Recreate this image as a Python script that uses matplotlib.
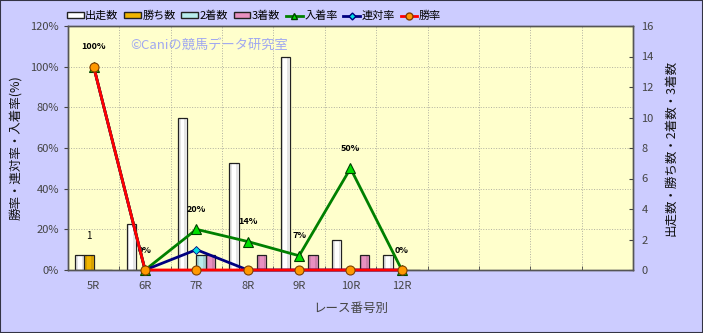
import matplotlib
matplotlib.use("Agg")
import matplotlib.pyplot as plt
from matplotlib.patches import Patch, Rectangle
from matplotlib.lines import Line2D
import numpy as np

plt.rcParams['font.family'] = ['Noto Sans CJK JP', 'DejaVu Sans']

categories = ['5R', '6R', '7R', '8R', '9R', '10R', '12R']
slot_labels = categories + ['', '', '', '']
starts = [1, 3, 10, 7, 14, 2, 1]        # 出走数
wins = [1, 0, 0, 0, 0, 0, 0]            # 勝ち数
seconds = [0, 0, 1, 0, 0, 0, 0]         # 2着数
thirds = [0, 0, 1, 1, 1, 1, 0]          # 3着数
place_rate = [100, 0, 20, 14, 7, 50, 0]  # 入着率
quinella_rate = [100, 0, 10, 0, 0, 0, 0]  # 連対率
win_rate = [100, 0, 0, 0, 0, 0, 0]       # 勝率
place_labels = ['100%', '0%', '20%', '14%', '7%', '50%', '0%']

BG = '#CCCCFF'
PLOT_BG = '#FFFFCC'

fig = plt.figure(figsize=(7.03, 3.33), dpi=100, facecolor=BG)
ax = fig.add_axes([68/703, 1-270/333, (633-68)/703, (270-26)/333])
ax2 = ax.twinx()

n = len(slot_labels)
x = np.arange(len(categories))
w = 0.18
bar_specs = [(starts, '#FFFFFF', '出走数'), (wins, '#F0B400', '勝ち数'),
             (seconds, '#B8ECEC', '2着数'), (thirds, '#E890C0', '3着数')]
for i, (vals, col, lab) in enumerate(bar_specs):
    ax2.bar(x + (i - 1.5) * w, vals, width=w, color=col, edgecolor='#222222',
            linewidth=0.9, zorder=2)
    # subtle cylinder shading
    ax2.bar(x + (i - 1.5) * w - w * 0.3, vals, width=w * 0.18, color='#000000',
            alpha=0.10, linewidth=0, zorder=2.1)
    ax2.bar(x + (i - 1.5) * w + w * 0.3, vals, width=w * 0.18, color='#000000',
            alpha=0.10, linewidth=0, zorder=2.1)
for xi, v in zip(x, wins):
    if v > 0:
        ax2.annotate(str(v), (xi - 0.5 * w, v), xytext=(0, 10), textcoords='offset points',
                     ha='center', va='bottom', fontsize=7, color='black')
ax2.set_ylim(0, 16)
ax2.set_yticks(range(0, 17, 2))

ax.set_zorder(ax2.get_zorder() + 1)
ax.patch.set_visible(False)
ax2.patch.set_visible(True)
ax2.patch.set_facecolor(PLOT_BG)

ax.plot(x, place_rate, color='#008000', lw=2, marker='^', ms=7,
        mfc='#00E000', mec='#004000', mew=0.8, zorder=3, clip_on=False)
ax.plot(x, quinella_rate, color='#000080', lw=2, marker='D', ms=4.5,
        mfc='#00E0E0', mec='#000080', mew=0.6, zorder=4, clip_on=False)
ax.plot(x, win_rate, color='#FF0000', lw=2, marker='o', ms=6.5,
        mfc='#FF9900', mec='#804000', mew=0.8, zorder=5, clip_on=False)
for xi, v, t in zip(x, place_rate, place_labels):
    ax.annotate(t, (xi, v), xytext=(0, 11), textcoords='offset points',
                ha='center', va='bottom', fontsize=6.5, fontweight='bold', color='black')

ax.set_xlim(-0.5, n - 0.5)
ax.set_ylim(0, 120)
ax.set_yticks(range(0, 121, 20))
ax.set_yticklabels([f'{v}%' for v in range(0, 121, 20)])
ax.set_xticks(range(n))
ax.set_xticklabels(slot_labels)
ax.set_xticks(np.arange(-0.5, n, 1), minor=True)
ax.tick_params(axis='x', which='major', length=0, pad=8, labelsize=8, labelcolor='#444444')
ax.tick_params(axis='x', which='minor', length=3, direction='in', color='#444444')
ax.tick_params(axis='y', length=3, direction='out', labelsize=8, labelcolor='#444444', color='#444444')
ax2.tick_params(axis='y', length=3, direction='in', labelsize=8, labelcolor='#444444', color='#444444', pad=6)

for yv in range(20, 121, 20):
    ax2.axhline(yv * 16 / 120, color='#B0B0A0', lw=0.7, ls=':', zorder=0.5)
for xv in np.arange(0.5, n - 1, 1):
    ax2.axvline(xv, color='#B0B0A0', lw=0.7, ls=':', zorder=0.5)

for a in (ax, ax2):
    for s in a.spines.values():
        s.set_color('#555555')
        s.set_linewidth(1.0)

ax.set_ylabel('勝率・連対率・入着率(%)', fontsize=9, color='#111111', labelpad=6)
ax2.set_ylabel('出走数・勝ち数・2着数・3着数', fontsize=9, color='#111111', rotation=90, labelpad=8)
ax.set_xlabel('レース番号別', fontsize=9, color='#444444', labelpad=8)

ax.text(0.11, 0.92, '©Caniの競馬データ研究室', transform=ax.transAxes, fontsize=9.5,
        color='#A0A8F0', ha='left', va='center', zorder=1)

handles = [Patch(facecolor=c, edgecolor='#222222', label=l) for _, c, l in bar_specs]
handles += [
    Line2D([], [], color='#008000', lw=2, marker='^', ms=5, mfc='#00E000', mec='#004000', label='入着率'),
    Line2D([], [], color='#000080', lw=2, marker='D', ms=3.5, mfc='#00E0E0', mec='#000080', label='連対率'),
    Line2D([], [], color='#FF0000', lw=2, marker='o', ms=5, mfc='#FF9900', mec='#804000', label='勝率'),
]
fig.legend(handles=handles, loc='center', bbox_to_anchor=(254/703, 1-16/333), ncol=7,
           frameon=False, fontsize=8, handlelength=1.5, handleheight=0.5,
           handletextpad=0.15, columnspacing=0.5, borderpad=0)

fig.patches.append(Rectangle((0, 0), 1, 1, transform=fig.transFigure, fill=False,
                             edgecolor='#333344', linewidth=1.5))

fig.savefig('out.png', dpi=100, facecolor=BG)
